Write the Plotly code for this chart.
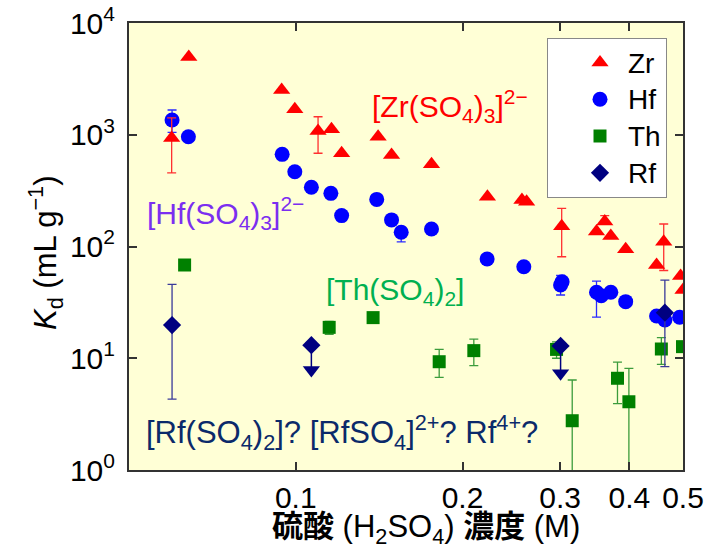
import plotly.graph_objects as go

# ---- data ----
zr_x = [0.0597, 0.0641, 0.0943, 0.0996, 0.1097, 0.116, 0.121, 0.1408, 0.1489, 0.1758,
        0.2218, 0.256, 0.261, 0.302, 0.349, 0.3612, 0.3704, 0.394, 0.448, 0.4615, 0.495, 0.50]
zr_y = [935, 4965, 2515, 1690, 1081, 1119, 682, 961, 659, 544,
        279, 261, 252, 152, 136, 167, 124, 94.4, 68.3, 110, 54.5, 40.8]
zr_ep = [480, None, None, None, 368, None, None, None, None, None,
         None, None, None, 67, None, 22, None, None, None, 49, None, None]
zr_em = [480, None, None, None, 398, None, None, None, None, None,
         None, None, None, 71, None, 0, None, None, None, 49, None, None]

hf_x = [0.0598, 0.0640, 0.0945, 0.0996, 0.1067, 0.1157, 0.121, 0.140, 0.1489, 0.155,
        0.1758, 0.2215, 0.258, 0.3006, 0.3025, 0.349, 0.356, 0.3704, 0.394, 0.448, 0.4637, 0.493]
hf_y = [1355, 961, 668, 467, 339, 299, 189, 264, 173, 134,
        143.6, 77.3, 65.9, 45.2, 48.4, 38.9, 36.3, 38.9, 32.1, 23.9, 22.0, 23.3]
hf_ep = [310, None, None, None, None, None, None, None, None, 15,
         None, None, 6, 10, None, 10, None, None, None, None, None, None]
hf_em = [303, None, None, None, None, None, None, None, None, 24,
         None, None, 7, 8.4, None, 15.6, None, None, None, None, None, None]

th_x = [0.063, 0.1149, 0.1379, 0.1815, 0.2096, 0.2956, 0.3155, 0.3808, 0.3993, 0.457, 0.499]
th_y = [68.3, 18.9, 23.1, 9.31, 11.7, 12.0, 2.76, 6.62, 4.08, 12.1, 12.7]
th_ep = [None, 2.5, None, 2.7, 3.1, 2.0, 3.63, 2.6, 4.05, 3.2, None]
th_em = [None, 2.5, None, 2.56, 3.1, 2.0, 2.5, 2.7, 3.7, 3.3, None]

rf_x = [0.0598, 0.1067, 0.3006, 0.4637]
rf_y = [19.8, 13.1, 12.9, 25.6]
rf_ep = [26.1, None, None, 24.4]
rf_em = [15.5, None, None, 17.2]

# upper-limit arrows for Rf
rf_lim_x = [0.1067, 0.3006]
rf_lim_y = [7.85, 7.35]
rf_lim_from = [13.1, 12.9]

x_tick_vals = [0.1, 0.2, 0.3, 0.4, 0.5]
x_tick_text = ["0.1", "0.2", "0.3", "0.4", "0.5"]
y_tick_vals = [1, 10, 100, 1000, 10000]
y_tick_text = ["10<sup>0</sup>", "10<sup>1</sup>", "10<sup>2</sup>", "10<sup>3</sup>", "10<sup>4</sup>"]

# ---- figure ----
FONT = "Liberation Sans, Arial, sans-serif"
fig = go.Figure()


def err(plus, minus, color):
    return dict(type="data", symmetric=False, array=plus, arrayminus=minus,
                color=color, thickness=1.3, width=4.5)


fig.add_trace(go.Scatter(x=th_x, y=th_y, mode="markers", name="Th", legendrank=3,
                         marker=dict(symbol="square", size=13, color="#008000"),
                         error_y=err(th_ep, th_em, "#3c9c3c")))
fig.add_trace(go.Scatter(x=hf_x, y=hf_y, mode="markers", name="Hf", legendrank=2,
                         marker=dict(symbol="circle", size=15, color="#0000FF"),
                         error_y=err(hf_ep, hf_em, "#2a2aff")))
fig.add_trace(go.Scatter(x=zr_x, y=zr_y, mode="markers", name="Zr", legendrank=1,
                         marker=dict(symbol="triangle-up", size=15, color="#FF0000"),
                         error_y=err(zr_ep, zr_em, "#ff3030")))
fig.add_trace(go.Scatter(x=rf_lim_x, y=rf_lim_y, mode="markers", showlegend=False,
                         marker=dict(symbol="triangle-down", size=15, color="#000080"),
                         error_y=dict(type="data", symmetric=False,
                                      array=[a - b for a, b in zip(rf_lim_from, rf_lim_y)],
                                      arrayminus=[0] * len(rf_lim_y),
                                      color="#000080", thickness=1.5, width=0)))
fig.add_trace(go.Scatter(x=rf_x, y=rf_y, mode="markers", name="Rf", legendrank=4,
                         marker=dict(symbol="diamond", size=14, color="#000080"),
                         error_y=err(rf_ep, rf_em, "#3a3a9a")))

for tr in fig.data:
    if tr.name:
        tr.name = "<span style='font-size:28px'>%s</span>" % tr.name

minor_x = [v / 100 for v in list(range(5, 10)) + list(range(11, 20)) + list(range(21, 30))
           + list(range(31, 40)) + list(range(41, 50))]
minor_y = [k * 10 ** n for n in range(0, 4) for k in range(2, 10)]

XR = [-1.30103, -0.30103]
YR = [0, 4]
LC = "#333333"

fig.update_layout(
    xaxis=dict(type="log", range=XR, tickmode="array", tickvals=x_tick_vals,
               ticktext=x_tick_text, showline=True, linecolor=LC, linewidth=2,
               mirror="ticks", ticks="inside", ticklen=8, tickwidth=1.5, tickcolor=LC,
               showgrid=False, zeroline=False, automargin=False,
               tickfont=dict(family=FONT, size=30, color="black")),
    yaxis=dict(type="log", range=YR, tickmode="array", tickvals=y_tick_vals,
               ticktext=y_tick_text, showline=True, linecolor=LC, linewidth=2,
               mirror="ticks", ticks="inside", ticklen=8, tickwidth=1.5, tickcolor=LC,
               showgrid=False, zeroline=False, automargin=False, ticklabelstandoff=6,
               tickfont=dict(family=FONT, size=30, color="black")),
)

# minor tick axes (bottom/top, left/right)
for name, side in (("xaxis2", "bottom"), ("xaxis3", "top")):
    fig.layout[name] = dict(type="log", range=XR, overlaying="x", side=side, anchor="y",
                            tickmode="array", tickvals=minor_x, ticks="inside",
                            ticklen=4, tickwidth=1.2, tickcolor=LC, showticklabels=False,
                            showline=False, showgrid=False, zeroline=False, automargin=False)
for name, side in (("yaxis2", "left"), ("yaxis3", "right")):
    fig.layout[name] = dict(type="log", range=YR, overlaying="y", side=side, anchor="x",
                            tickmode="array", tickvals=minor_y, ticks="inside",
                            ticklen=4, tickwidth=1.2, tickcolor=LC, showticklabels=False,
                            showline=False, showgrid=False, zeroline=False, automargin=False)

W, H = 705, 555
L, R, T, B = 129, 683, 23, 470


def px(xp):
    return (xp - L) / (R - L)


def py(yp):
    return (B - yp) / (B - T)


annos = [
    dict(text="[Zr(SO<sub>4</sub>)<sub>3</sub>]<sup>2−</sup>", x=px(450), y=py(106), color="#FF0000"),
    dict(text="[Hf(SO<sub>4</sub>)<sub>3</sub>]<sup>2−</sup>", x=px(225), y=py(213), color="#7B2EF0"),
    dict(text="[Th(SO<sub>4</sub>)<sub>2</sub>]", x=px(395), y=py(291), color="#00B050"),
    dict(text="[Rf(SO<sub>4</sub>)<sub>2</sub>]? [RfSO<sub>4</sub>]<sup>2+</sup>? Rf<sup>4+</sup>?",
         x=px(342), y=py(432), color="#0B2A6A", size=31),
]
for a in annos:
    fig.add_annotation(text=a["text"], x=a["x"], y=a["y"], xref="paper", yref="paper",
                       showarrow=False, xanchor="center", yanchor="middle",
                       font=dict(family=FONT, size=a.get("size", 30), color=a["color"]))

fig.add_annotation(text="<i>K</i><sub>d</sub> (mL g<sup>−1</sup>)", x=px(45), y=py(253),
                   xref="paper", yref="paper", showarrow=False, textangle=-90,
                   xanchor="center", yanchor="middle",
                   font=dict(family=FONT, size=31, color="black"))
fig.add_annotation(text="<b>硫酸</b> (H<sub>2</sub>SO<sub>4</sub>) <b>濃度</b> (M)",
                   x=px(426), y=py(529), xref="paper", yref="paper", showarrow=False,
                   xanchor="center", yanchor="middle",
                   font=dict(family="Liberation Sans, Noto Sans CJK JP", size=31, color="black"))

fig.update_layout(
    width=W, height=H,
    margin=dict(l=L, r=W - R, t=T, b=H - B, pad=0),
    paper_bgcolor="white", plot_bgcolor="#FFFFD6",
    font=dict(family=FONT, color="black"),
    showlegend=True,
    legend=dict(x=px(667), y=py(38), xanchor="right", yanchor="top",
                bgcolor="white", bordercolor="#888888", borderwidth=1,
                font=dict(family=FONT, size=26, color="black"),
                indentation=24, itemwidth=46, tracegroupgap=0),
)

fig.write_html("out.html", config={"displayModeBar": False},
               post_script="document.body.style.margin='0';document.body.style.padding='0';")
